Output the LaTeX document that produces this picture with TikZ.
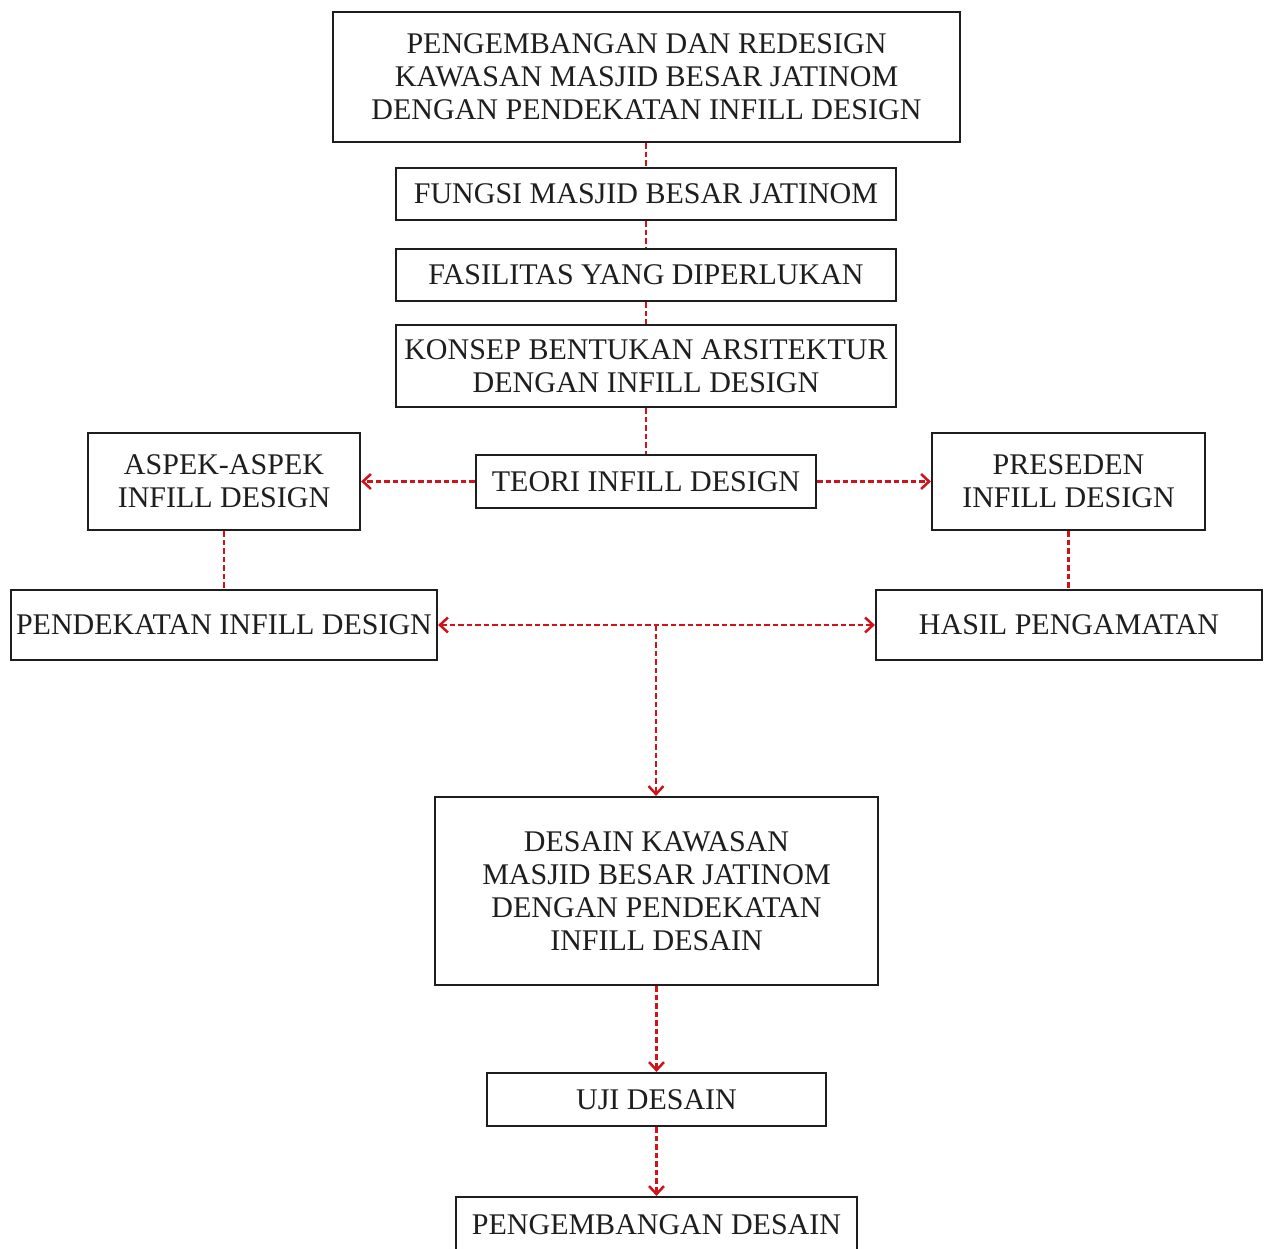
\documentclass[tikz,border=0pt]{standalone}
\usepackage{fontspec}
\setmainfont{Liberation Serif}
\usetikzlibrary{arrows.meta}
\definecolor{lnred}{HTML}{D0121B}
\definecolor{txt}{HTML}{1E1E1E}
\tikzset{
  box/.style={draw=txt, line width=2.2pt, align=center, inner sep=0pt, text=txt,
    font=\fontsize{30}{33}\selectfont},
  link/.style={draw=lnred, line width=2.5pt, dash pattern=on 5.5pt off 3pt},
  tipb/.style={},
  arr/.style={link, -{Straight Barb[length=8pt,width=15pt,line width=2.5pt]}},
  darr/.style={link, {Straight Barb[length=8pt,width=15pt,line width=2.5pt]}-{Straight Barb[length=8pt,width=15pt,line width=2.5pt]}}
}
\begin{document}
\begin{tikzpicture}[x=1pt,y=-1pt]
\useasboundingbox[fill=white] (0,0) rectangle (1264,1249);
\node[box, minimum width=627, minimum height=130] (top) at (646.5,77) {PENGEMBANGAN DAN REDESIGN\\KAWASAN MASJID BESAR JATINOM\\DENGAN PENDEKATAN INFILL DESIGN};
\node[box, minimum width=500, minimum height=52] (fungsi) at (646,194) {FUNGSI MASJID BESAR JATINOM};
\node[box, minimum width=500, minimum height=52] (fas) at (646,275) {FASILITAS YANG DIPERLUKAN};
\node[box, minimum width=500, minimum height=82] (konsep) at (646,366) {KONSEP BENTUKAN ARSITEKTUR\\DENGAN INFILL DESIGN};
\node[box, minimum width=340, minimum height=53] (teori) at (646,481.5) {TEORI INFILL DESIGN};
\node[box, minimum width=272, minimum height=97] (aspek) at (224,481.5) {ASPEK-ASPEK\\INFILL DESIGN};
\node[box, minimum width=273, minimum height=97] (pres) at (1068.5,481.5) {PRESEDEN\\INFILL DESIGN};
\node[box, minimum width=426, minimum height=70] (pend) at (224,625) {PENDEKATAN INFILL DESIGN};
\node[box, minimum width=386, minimum height=70] (hasil) at (1069,625) {HASIL PENGAMATAN};
\node[box, minimum width=443, minimum height=188] (desain) at (656.5,891) {DESAIN KAWASAN\\MASJID BESAR JATINOM\\DENGAN PENDEKATAN\\INFILL DESAIN};
\node[box, minimum width=339, minimum height=53] (uji) at (656.5,1099.5) {UJI DESAIN};
\node[box, minimum width=401, minimum height=56] (peng) at (656.5,1225) {PENGEMBANGAN DESAIN};
\coordinate (j) at (656,625);
\draw[link] (top.south -| fungsi.north) -- (fungsi.north);
\draw[link] (fungsi) -- (fas);
\draw[link] (fas) -- (konsep);
\draw[link] (konsep) -- (teori);
\draw[arr] (teori.west) -- (aspek.east);
\draw[arr] (teori.east) -- (pres.west);
\draw[link] (aspek) -- (pend);
\draw[link] (pres.south) -- (pres.south |- hasil.north);
\draw[darr] (pend.east) -- (hasil.west);
\draw[arr] (j) -- (j |- desain.north);
\draw[arr] (desain.south -| uji.north) -- (uji.north);
\draw[arr] (uji) -- (peng);
\end{tikzpicture}
\end{document}
